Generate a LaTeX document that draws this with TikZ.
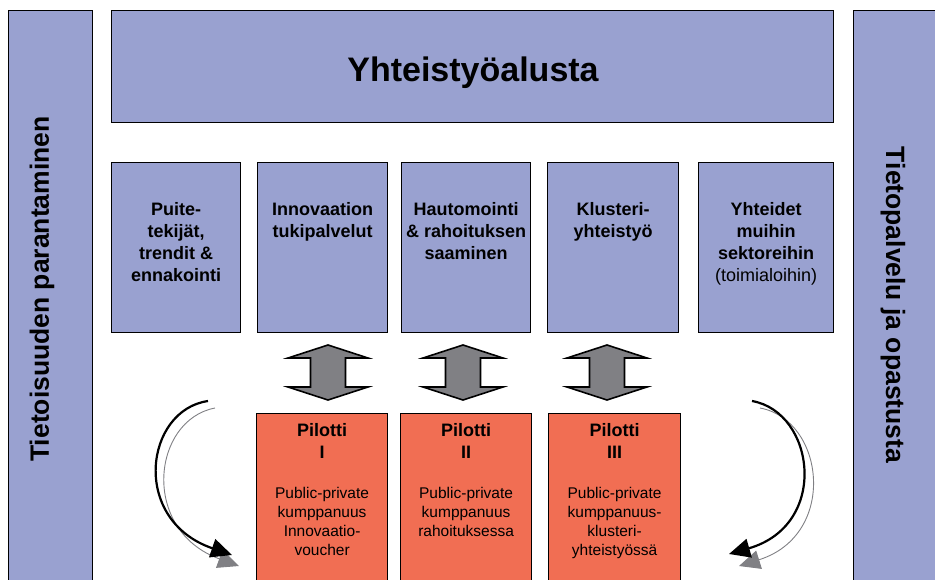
\documentclass[tikz,border=0pt]{standalone}
\usepackage{fontspec}
\setmainfont{Liberation Sans}
\usetikzlibrary{positioning,arrows.meta}
\definecolor{lavender}{RGB}{153,161,208}
\definecolor{pilotred}{RGB}{241,110,83}
\definecolor{arrowgray}{RGB}{128,128,132}

\tikzset{
	dblarrow/.pic={
		\draw[line width=1.6pt, fill=arrowgray, line join=miter]
			(0,-28) -- (40,-15) -- (17.5,-15) -- (17.5,14) -- (40,14) -- (0,27)
			-- (-40,14) -- (-17.5,14) -- (-17.5,-15) -- (-40,-15) -- cycle;
	}
}

\begin{document}
\begin{tikzpicture}[x=1pt, y=-1pt, line width=1.2pt,
	blue box/.style={draw, fill=lavender, anchor=north west, inner sep=0pt},
	mid box/.style={blue box, minimum height=170pt},
	pilot box/.style={draw, fill=pilotred, anchor=north west, inner sep=0pt, minimum height=190pt},
	box text/.style={align=center, inner sep=0pt, font=\bfseries\fontsize{18}{22}\selectfont},
	pilot text/.style={align=center, inner sep=0pt, font=\fontsize{15.5}{19}\selectfont},
	side text/.style={inner sep=0pt, font=\bfseries\fontsize{26.5}{30}\selectfont},
	black curve/.style={line width=2.2pt, -{Triangle[length=21pt, width=19pt]}},
	gray curve/.style={line width=0.9pt, arrowgray, -{Triangle[length=21pt, width=19pt]}}]
	\useasboundingbox (0,0) rectangle (935,579);
	\clip (0,0) rectangle (935,579);

	% side bars and platform
	\node[blue box, minimum width=84pt, minimum height=600pt] (left) at (8,10) {};
	\node[blue box, minimum width=100pt, minimum height=600pt] (right) at (853,10) {};
	\node[blue box, minimum width=722pt, minimum height=112pt] (top) at (111,10) {};
	\node[font=\bfseries\fontsize{34}{40}\selectfont, inner sep=0pt] (title) at (473,73) {Yhteistyöalusta};
	\node[side text, rotate=90] (lefttext) at (42,289) {Tietoisuuden parantaminen};
	\node[side text, rotate=-90] (righttext) at (893,305) {Tietopalvelu ja opastusta};

	% service boxes
	\node[mid box, minimum width=129pt] (b1) at (111,162) {};
	\node[mid box, minimum width=130pt] (b2) at (257,162) {};
	\node[mid box, minimum width=129pt] (b3) at (401,162) {};
	\node[mid box, minimum width=131pt] (b4) at (547,162) {};
	\node[mid box, minimum width=135pt] (b5) at (698,162) {};
	\node[box text, below=40pt of b1.north] (t1) {Puite-\\tekijät,\\trendit \&\\ennakointi};
	\node[box text, below=40pt of b2.north] (t2) {Innovaation\\tukipalvelut};
	\node[box text, below=40pt of b3.north] (t3) {Hautomointi\\\& rahoituksen\\saaminen};
	\node[box text, below=40pt of b4.north] (t4) {Klusteri-\\yhteistyö};
	\node[box text, below=40pt of b5.north] (t5) {Yhteidet\\muihin\\sektoreihin\\{\mdseries(toimialoihin)}};

	% pilots
	\node[pilot box, minimum width=131pt] (p1) at (256,413) {};
	\node[pilot box, minimum width=131pt] (p2) at (400,413) {};
	\node[pilot box, minimum width=132pt] (p3) at (548,413) {};
	\node[box text, below=10pt of p1.north] (pt1) {Pilotti\\I};
	\node[box text, below=10pt of p2.north] (pt2) {Pilotti\\II};
	\node[box text, below=10pt of p3.north] (pt3) {Pilotti\\III};
	\node[pilot text, below=27pt of pt1] (pd1) {Public-private\\kumppanuus\\Innovaatio-\\voucher};
	\node[pilot text, below=27pt of pt2] (pd2) {Public-private\\kumppanuus\\rahoituksessa};
	\node[pilot text, below=27pt of pt3] (pd3) {Public-private\\kumppanuus-\\klusteri-\\yhteistyössä};

	% two-way arrows
	\pic at (328,373) {dblarrow};
	\pic at (463,373) {dblarrow};
	\pic at (607,373) {dblarrow};

	% feedback curves
	\coordinate (ls) at (208,401);
	\coordinate (le) at (232,555);
	\coordinate (lgs) at (215,408);
	\coordinate (lge) at (239,566);
	\coordinate (rs) at (752,401);
	\coordinate (re) at (729,554);
	\coordinate (rgs) at (760,408);
	\coordinate (rge) at (739,566);
	\draw[gray curve] (lgs) .. controls (152,420) and (140,530) .. (lge);
	\draw[black curve] (ls) .. controls (145,410) and (130,520) .. (le);
	\draw[gray curve] (rgs) .. controls (825,420) and (838,535) .. (rge);
	\draw[black curve] (rs) .. controls (815,412) and (830,525) .. (re);
\end{tikzpicture}
\end{document}
